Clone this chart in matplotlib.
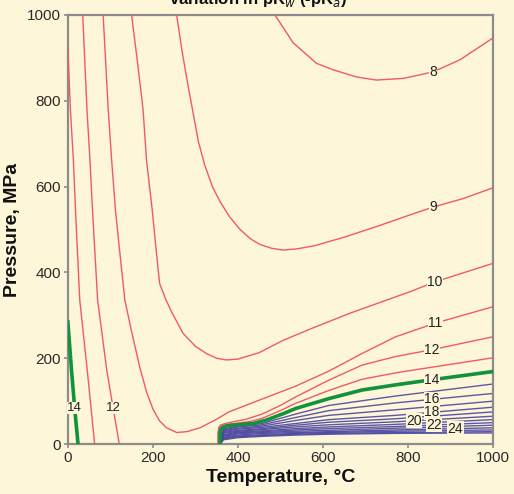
import numpy as np
import matplotlib.pyplot as plt

plt.rcParams['font.family'] = ['Liberation Sans', 'DejaVu Sans']

bg = '#FEF6D8'
red = '#EF5A66'
green = '#12923C'
blue = '#4A46A0'

# contour lines of pKw: temperature (degC), pressure (MPa)
pk8_T = [487, 530, 585, 624, 680, 726, 790, 859, 922, 1000]
pk8_P = [1000, 935, 887, 872, 855, 848, 852, 867, 895, 946]

pk9_T = [256, 268, 280, 295, 307, 322, 340, 358, 380, 405, 430, 452, 480, 507, 540, 580, 650, 730, 805, 859, 930, 1000]
pk9_P = [1000, 920, 850, 770, 705, 650, 600, 565, 530, 500, 478, 465, 456, 452, 455, 462, 482, 508, 534, 552, 572, 597]

pk10_T = [150, 165, 177, 185, 198, 208, 216, 230, 244, 271, 300, 326, 350, 373, 400, 450, 507, 580, 664, 740, 805, 864, 1000]
pk10_P = [1000, 880, 779, 662, 550, 450, 374, 338, 308, 258, 228, 211, 200, 196, 198, 213, 242, 272, 305, 332, 355, 378, 421]

pk11_T = [83, 95, 103, 112, 124, 134, 150, 169, 185, 200, 215, 232, 256, 280, 311, 350, 379, 457, 536, 614, 692, 771, 865, 1000]
pk11_P = [1000, 779, 662, 545, 430, 336, 262, 180, 122, 82, 55, 38, 27, 29, 38, 58, 75, 105, 135, 170, 211, 250, 282, 320]

# left (liquid) branches
pk12a_T = [35, 45, 52, 58, 70, 92, 121]
pk12a_P = [1000, 779, 662, 545, 336, 169, 0]
pk13a_T = [0, 6, 13, 18, 28, 46, 63]
pk13a_P = [927, 779, 662, 545, 336, 169, 0]
pk14a_T = [0, 8, 16, 24]
pk14a_P = [285, 180, 84, 0]

# right (supercritical) branches
pk12b_T = [353, 353, 355, 360, 379, 420, 457, 500, 536, 614, 692, 771, 857, 1000]
pk12b_P = [0, 25, 39, 45, 50, 58, 70, 90, 110, 149, 184, 204, 220, 250]
pk13b_T = [355, 355, 357, 362, 375, 400, 430, 457, 500, 536, 614, 692, 771, 849, 1000]
pk13b_P = [0, 25, 37, 42, 46, 49, 53, 60, 78, 95, 125, 151, 166, 178, 201]
pk14b_T = [358, 358, 359, 364, 372, 386, 410, 436, 467, 507, 536, 614, 692, 771, 857, 1000]
pk14b_P = [0, 20, 33, 39, 42, 44, 46, 48, 56, 71, 83, 106, 126, 138, 150, 169]

# blue lines pKw 15..27, pressure at these temperatures
blue_levels = list(range(15, 28))
blue_T = [360, 366, 400, 457, 536, 614, 771, 1000]
blue_P = [
    [2, 35, 42, 48, 70, 90, 112, 140],
    [2, 33, 40, 45, 62, 78, 96, 118],
    [2, 31, 37, 42, 55, 67, 80, 100],
    [2, 29, 35, 39, 48, 57, 67, 86],
    [2, 27, 32, 36, 44, 51, 59, 75],
    [2, 25, 30, 34, 40, 45, 52, 65],
    [2, 22, 28, 31, 36, 40, 46, 57],
    [2, 20, 26, 29, 33, 36, 41, 50],
    [2, 18, 24, 27, 30, 32, 37, 44],
    [2, 16, 21, 25, 27, 29, 33, 38],
    [2, 14, 19, 22, 25, 27, 30, 33],
    [2, 12, 17, 20, 23, 25, 27, 29],
    [2, 10, 15, 18, 21, 23, 25, 26],
]

fig = plt.figure(figsize=(5.14, 4.94), dpi=100, facecolor=bg)
ax = fig.add_axes([0.132, 0.101, 0.827, 0.869], facecolor=bg)

for lvl, ps in zip(blue_levels, blue_P):
    ax.plot(blue_T, ps, color=blue, lw=1.0, alpha=0.9, zorder=2)

red_lines = [(pk8_T, pk8_P), (pk9_T, pk9_P), (pk10_T, pk10_P), (pk11_T, pk11_P),
             (pk12a_T, pk12a_P), (pk13a_T, pk13a_P), (pk12b_T, pk12b_P), (pk13b_T, pk13b_P)]
for t, p in red_lines:
    ax.plot(t, p, color=red, lw=1.0, zorder=3)

ax.plot(pk14a_T, pk14a_P, color=green, lw=2.6, zorder=4)
ax.plot(pk14b_T, pk14b_P, color=green, lw=2.6, zorder=4)


def label_on(text, t, p, at_t, size=10):
    y = np.interp(at_t, t, p)
    ax.text(at_t, y, text, ha='center', va='center', fontsize=size, color='#222222', zorder=6,
            bbox=dict(facecolor=bg, edgecolor='none', pad=0.2))


label_on('8', pk8_T, pk8_P, 859)
label_on('9', pk9_T, pk9_P, 859)
label_on('10', pk10_T, pk10_P, 864)
label_on('11', pk11_T, pk11_P, 865)
label_on('12', pk12b_T, pk12b_P, 857)
label_on('14', pk14b_T, pk14b_P, 857)
label_on('16', blue_T, blue_P[1], 857)
label_on('18', blue_T, blue_P[3], 857)
label_on('20', blue_T, blue_P[5], 814)
label_on('22', blue_T, blue_P[7], 861)
label_on('24', blue_T, blue_P[9], 912)

# left-hand labels sit on steep lines, place by pressure
for text, t, p in [('14', pk14a_T, pk14a_P), ('12', pk12a_T, pk12a_P)]:
    x = np.interp(84, p[::-1], t[::-1])
    ax.text(x, 84, text, ha='center', va='center', fontsize=9.5, color='#222222', zorder=6,
            bbox=dict(facecolor=bg, edgecolor='none', pad=0.3))

ax.set_xlim(0, 1000)
ax.set_ylim(0, 1000)
ax.set_xticks([0, 200, 400, 600, 800, 1000])
ax.set_yticks([0, 200, 400, 600, 800, 1000])
for s in ax.spines.values():
    s.set_color('#8C8C8C')
    s.set_linewidth(1.6)
ax.tick_params(direction='out', length=3, width=1.2, color='#8C8C8C', labelsize=11,
               labelcolor='#2A2A2A', pad=2)
ax.set_xlabel('Temperature, °C', fontsize=14, fontweight='bold', color='#111111', labelpad=3)
ax.set_ylabel('Pressure, MPa', fontsize=14, fontweight='bold', color='#111111', labelpad=4)

fig.text(0.502, 1 - 4 / 494, 'variation in pK$_w$ (-pK$_a$)', ha='center', va='baseline',
         fontsize=12, fontweight='bold', color='#111111')

fig.savefig('out.png', dpi=100, facecolor=bg)
